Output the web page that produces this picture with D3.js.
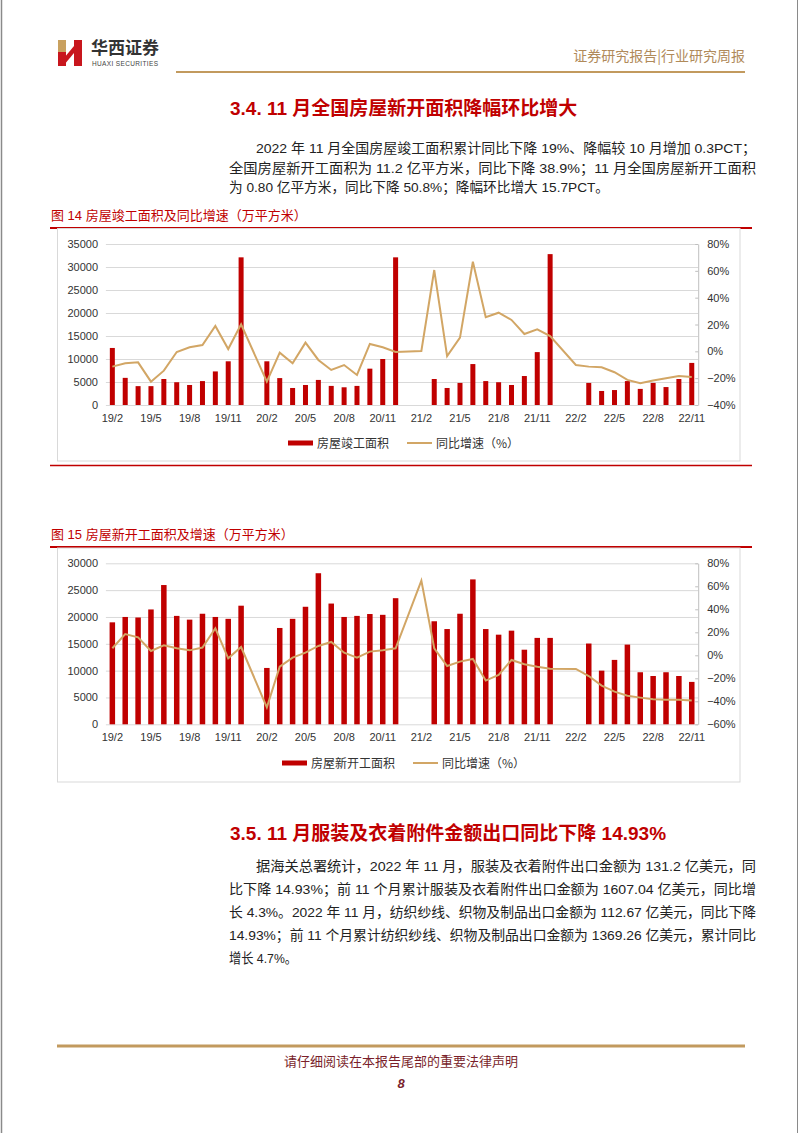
<!DOCTYPE html>
<html>
<head>
<meta charset="utf-8">
<script src="https://cdn.jsdelivr.net/npm/d3@7"></script>
<style>
body { margin: 0; background: #fff; }
svg text { font-family: "Liberation Sans", "Noto Sans CJK SC", sans-serif; }
</style>
</head>
<body>
<div id="page"></div>
<script>

var months = ["19/2","19/3","19/4","19/5","19/6","19/7","19/8","19/9","19/10","19/11","19/12",
              "20/1","20/2","20/3","20/4","20/5","20/6","20/7","20/8","20/9","20/10","20/11","20/12",
              "21/1","21/2","21/3","21/4","21/5","21/6","21/7","21/8","21/9","21/10","21/11","21/12",
              "22/1","22/2","22/3","22/4","22/5","22/6","22/7","22/8","22/9","22/10","22/11"];
var xTickLabels = ["19/2","19/5","19/8","19/11","20/2","20/5","20/8","20/11","21/2","21/5","21/8","21/11","22/2","22/5","22/8","22/11"];

// 图14 房屋竣工面积（万平方米）及同比（%）
var completedArea = [12400,5900,4100,4100,5650,4950,4350,5200,7300,9500,32100,
                     null,9500,5850,3700,4350,5450,4150,3850,4150,7900,10000,32100,
                     null,null,5650,3700,4800,8900,5200,4950,4350,6300,11500,32800,
                     null,null,4800,3050,3250,5200,3500,4800,3900,5650,9150];
var completedYoY = [-11.4,-8.9,-8.2,-22.6,-14.4,-0.5,3.0,4.7,18.9,1.7,20.1,
                    null,-22.6,-1.0,-8.9,6.5,-6.4,-13.9,-10.2,-17.6,5.5,3.0,-0.5,
                    null,0.3,60.6,-3.5,10.2,66.8,25.4,28.8,23.4,12.9,16.4,11.4,
                    null,-10.2,-11.4,-11.9,-15.6,-21.3,-23.8,-21.8,-20.1,-18.4,-19.1];

// 图15 房屋新开工面积（万平方米）及同比（%）
var startedArea = [19000,20000,19900,21400,25950,20200,19500,20600,20000,19650,22100,
                   null,10500,17950,19650,21900,28150,22500,20000,20200,20550,20400,23500,
                   null,null,19200,17750,20600,27000,17750,16700,17450,13900,16100,16100,
                   null,null,15050,10000,12000,14850,9700,9000,9700,9000,7900];
var startedYoY = [6.1,18.5,15.6,3.8,8.7,6.1,4.3,6.7,23.5,-2.6,7.2,
                  null,-45.2,-9.9,-2.0,2.3,8.1,11.6,2.3,-2.0,3.2,4.3,6.1,
                  null,64.9,6.1,-9.3,-5.5,-3.2,-22.0,-17.1,-4.1,-7.8,-9.9,-11.6,
                  null,-11.9,-18.0,-26.4,-31.6,-35.1,-36.8,-38.3,-38.6,-38.6,-39.4];

var ticks1Left = [0,5000,10000,15000,20000,25000,30000,35000];
var ticks1Right = [-40,-20,0,20,40,60,80];
var ticks2Left = [0,5000,10000,15000,20000,25000,30000];
var ticks2Right = [-60,-40,-20,0,20,40,60,80];

var W = 802, H = 1133;
var red = "#c00000", tan = "#d2a665", gold = "#c29a5e";
var plotLeft = 105.9, plotRight = 698.2;

var svg = d3.select("#page")
            .append("svg")
            .attr("width", W)
            .attr("height", H);

svg.append("rect").attr("width", W).attr("height", H).attr("fill", "#fff");

// page edges
svg.append("line").attr("x1",1.5).attr("x2",1.5).attr("y1",0).attr("y2",H).attr("stroke","#8a8a8a").attr("stroke-width",1.5);
svg.append("line").attr("x1",797.5).attr("x2",797.5).attr("y1",0).attr("y2",H).attr("stroke","#8a8a8a").attr("stroke-width",1);

// ---- header ----
svg.append("rect").attr("x",58).attr("y",40).attr("width",8).attr("height",12).attr("fill","#c9a15f");
svg.append("rect").attr("x",58).attr("y",52).attr("width",8).attr("height",14).attr("fill","#c8161d");
svg.append("rect").attr("x",74).attr("y",40).attr("width",8).attr("height",26).attr("fill","#c8161d");
svg.append("polygon").attr("points","64,58 74,46 74,53 64,65").attr("fill","#c8161d");

svg.append("text")
    .attr("x", 91).attr("y", 54)
    .text("华西证券")
    .style("font-family", "'Noto Sans CJK SC'")
    .attr("font-weight", "bold")
    .attr("font-size", "17px")
    .attr("fill", "#333");
svg.append("text")
    .attr("x", 92).attr("y", 66)
    .text("HUAXI SECURITIES")
    .attr("font-size", "6.5px")
    .attr("textLength", 66)
    .attr("fill", "#444");

svg.append("text")
    .attr("x", 745).attr("y", 61)
    .attr("text-anchor", "end")
    .text("证券研究报告|行业研究周报")
    .style("font-family", "'Noto Sans CJK SC'")
    .attr("font-size", "14px")
    .attr("fill", "#b08a5a");

svg.append("line").attr("x1",176).attr("x2",745).attr("y1",72).attr("y2",72).attr("stroke",gold).attr("stroke-width",2);

// ---- section 3.4 ----
svg.append("text")
    .attr("x", 230).attr("y", 115)
    .text("3.4. 11 月全国房屋新开面积降幅环比增大")
    .attr("font-size", "19px")
    .attr("font-weight", "bold")
    .attr("fill", red);

var para1 = [
  {t: "2022 年 11 月全国房屋竣工面积累计同比下降 19%、降幅较 10 月增加 0.3PCT；", x: 256, w: 500},
  {t: "全国房屋新开工面积为 11.2 亿平方米，同比下降 38.9%；11 月全国房屋新开工面积", x: 229, w: 527},
  {t: "为 0.80 亿平方米，同比下降 50.8%；降幅环比增大 15.7PCT。", x: 229, w: 380}
];
svg.selectAll("text.p1")
   .data(para1)
   .enter()
   .append("text")
   .attr("class", "p1")
   .attr("x", function(d) { return d.x; })
   .attr("y", function(d, i) { return 153 + i * 19.5; })
   .attr("textLength", function(d) { return d.w; })
   .attr("lengthAdjust", "spacingAndGlyphs")
   .text(function(d) { return d.t; })
   .attr("font-size", "13.5px")
   .attr("fill", "#222");

// ---- charts ----
function drawChart(cfg) {
    var g = svg.append("g");

    g.append("text")
        .attr("x", 51).attr("y", cfg.titleY)
        .text(cfg.title)
        .attr("font-size", "13px")
        .attr("fill", red);
    g.append("line").attr("x1",50).attr("x2",752).attr("y1",cfg.titleY+8).attr("y2",cfg.titleY+8).attr("stroke",red).attr("stroke-width",2);
    g.append("rect")
        .attr("x", 57.5).attr("y", cfg.boxTop)
        .attr("width", 682.5).attr("height", cfg.boxBottom - cfg.boxTop)
        .attr("fill", "none").attr("stroke", "#d9d9d9");

    var x = d3.scaleBand().domain(months).range([plotLeft, plotRight]);
    var yL = d3.scaleLinear().domain([0, cfg.leftMax]).range([cfg.bottom, cfg.top]);
    var yR = d3.scaleLinear().domain([cfg.rightMin, cfg.rightMax]).range([cfg.bottom, cfg.top]);

    // gridlines
    g.append("g")
        .attr("transform", "translate(" + plotLeft + ",0)")
        .call(d3.axisLeft(yL).tickValues(cfg.leftTicks).tickSize(-(plotRight - plotLeft)).tickFormat(""))
        .call(function(s) {
            s.select(".domain").remove();
            s.selectAll(".tick line").attr("stroke", "#d9d9d9");
        });

    // left labels
    g.append("g")
        .attr("transform", "translate(98,0)")
        .call(d3.axisLeft(yL).tickValues(cfg.leftTicks).tickSize(0).tickPadding(0).tickFormat(d3.format("d")))
        .call(function(s) {
            s.select(".domain").remove();
            s.selectAll("text").attr("font-size", "11px").attr("fill", "#333")
             .style("font-family", "'Liberation Sans', Arial, sans-serif");
        });

    // right axis
    g.append("g")
        .attr("transform", "translate(" + plotRight + ",0)")
        .call(d3.axisRight(yR).tickValues(cfg.rightTicks).tickSizeInner(-3).tickSizeOuter(0).tickPadding(9)
              .tickFormat(function(d) { return (d < 0 ? "\u2212" : "") + Math.abs(d) + "%"; }))
        .call(function(s) {
            s.select(".domain").attr("stroke", "#bfbfbf");
            s.selectAll(".tick line").attr("stroke", "#bfbfbf");
            s.selectAll("text").attr("font-size", "11px").attr("fill", "#333")
             .style("font-family", "'Liberation Sans', Arial, sans-serif");
        });

    // x labels
    g.append("g")
        .attr("transform", "translate(0," + cfg.bottom + ")")
        .call(d3.axisBottom(x).tickValues(xTickLabels).tickSize(0).tickPadding(9))
        .call(function(s) {
            s.select(".domain").remove();
            s.selectAll("text").attr("font-size", "11px").attr("fill", "#333")
             .style("font-family", "'Liberation Sans', Arial, sans-serif");
        });

    // bars
    var barData = months.map(function(m, i) { return {m: m, v: cfg.bars[i]}; })
                        .filter(function(d) { return d.v != null; });
    g.selectAll("rect.bar")
        .data(barData)
        .enter()
        .append("rect")
        .attr("class", "bar")
        .attr("x", function(d) { return x(d.m) + x.bandwidth() / 2 - cfg.barW / 2; })
        .attr("y", function(d) { return yL(d.v); })
        .attr("width", cfg.barW)
        .attr("height", function(d) { return cfg.bottom - yL(d.v); })
        .attr("fill", red);

    // yoy line
    var lineData = months.map(function(m, i) { return {m: m, v: cfg.line[i]}; })
                         .filter(function(d) { return d.v != null; });
    var line = d3.line()
        .x(function(d) { return x(d.m) + x.bandwidth() / 2; })
        .y(function(d) { return yR(d.v); });
    g.append("path")
        .datum(lineData)
        .attr("d", line)
        .attr("fill", "none")
        .attr("stroke", tan)
        .attr("stroke-width", 2);

    // legend
    var ly = cfg.legendY;
    g.append("rect").attr("x", cfg.legendX).attr("y", ly - 2.5).attr("width", 25).attr("height", 5).attr("fill", red);
    g.append("text").attr("x", cfg.legendX + 29).attr("y", ly + 4.5)
        .text(cfg.barName).attr("font-size", "12px").attr("fill", "#333")
        .style("font-family", "'Noto Sans CJK SC'");
    var lx = cfg.legendX + cfg.legendGap;
    g.append("line").attr("x1", lx).attr("x2", lx + 25).attr("y1", ly).attr("y2", ly).attr("stroke", tan).attr("stroke-width", 2);
    g.append("text").attr("x", lx + 29).attr("y", ly + 4.5)
        .text("同比增速（%）").attr("font-size", "12px").attr("fill", "#333")
        .style("font-family", "'Noto Sans CJK SC'");
}

drawChart({
    title: "图 14 房屋竣工面积及同比增速（万平方米）",
    titleY: 220, boxTop: 228.5, boxBottom: 461,
    top: 244, bottom: 405,
    leftMax: 35000, leftTicks: ticks1Left,
    rightMin: -40, rightMax: 80, rightTicks: ticks1Right,
    bars: completedArea, line: completedYoY, barW: 5,
    legendY: 443, legendX: 288, legendGap: 119,
    barName: "房屋竣工面积"
});

svg.append("line").attr("x1",50).attr("x2",752).attr("y1",465.5).attr("y2",465.5).attr("stroke",red).attr("stroke-width",1.5);

drawChart({
    title: "图 15 房屋新开工面积及增速（万平方米）",
    titleY: 539, boxTop: 548, boxBottom: 782,
    top: 563.3, bottom: 724.3,
    leftMax: 30000, leftTicks: ticks2Left,
    rightMin: -60, rightMax: 80, rightTicks: ticks2Right,
    bars: startedArea, line: startedYoY, barW: 5.5,
    legendY: 763, legendX: 282, legendGap: 131,
    barName: "房屋新开工面积"
});

// ---- section 3.5 ----
svg.append("text")
    .attr("x", 230).attr("y", 840)
    .text("3.5. 11 月服装及衣着附件金额出口同比下降 14.93%")
    .attr("font-size", "19px")
    .attr("font-weight", "bold")
    .attr("fill", red);

var para2 = [
  {t: "据海关总署统计，2022 年 11 月，服装及衣着附件出口金额为 131.2 亿美元，同", x: 256, w: 500},
  {t: "比下降 14.93%；前 11 个月累计服装及衣着附件出口金额为 1607.04 亿美元，同比增", x: 229, w: 527},
  {t: "长 4.3%。2022 年 11 月，纺织纱线、织物及制品出口金额为 112.67 亿美元，同比下降", x: 229, w: 527},
  {t: "14.93%；前 11 个月累计纺织纱线、织物及制品出口金额为 1369.26 亿美元，累计同比", x: 229, w: 527},
  {t: "增长 4.7%。", x: 229, w: 68}
];
svg.selectAll("text.p2")
   .data(para2)
   .enter()
   .append("text")
   .attr("class", "p2")
   .attr("x", function(d) { return d.x; })
   .attr("y", function(d, i) { return 871 + i * 23; })
   .attr("textLength", function(d) { return d.w; })
   .attr("lengthAdjust", "spacingAndGlyphs")
   .text(function(d) { return d.t; })
   .attr("font-size", "13.5px")
   .attr("fill", "#222");

// ---- footer ----
svg.append("line").attr("x1",57).attr("x2",745).attr("y1",1046).attr("y2",1046).attr("stroke",gold).attr("stroke-width",3);
svg.append("text")
    .attr("x", 401).attr("y", 1066)
    .attr("text-anchor", "middle")
    .text("请仔细阅读在本报告尾部的重要法律声明")
    .style("font-family", "'Noto Sans CJK SC'")
    .attr("font-size", "13px")
    .attr("fill", "#7a1f2b");
svg.append("text")
    .attr("x", 401).attr("y", 1088)
    .attr("text-anchor", "middle")
    .text("8")
    .attr("font-size", "13px")
    .attr("font-weight", "bold")
    .attr("font-style", "italic")
    .attr("fill", "#7a1f2b");

</script>
</body>
</html>
